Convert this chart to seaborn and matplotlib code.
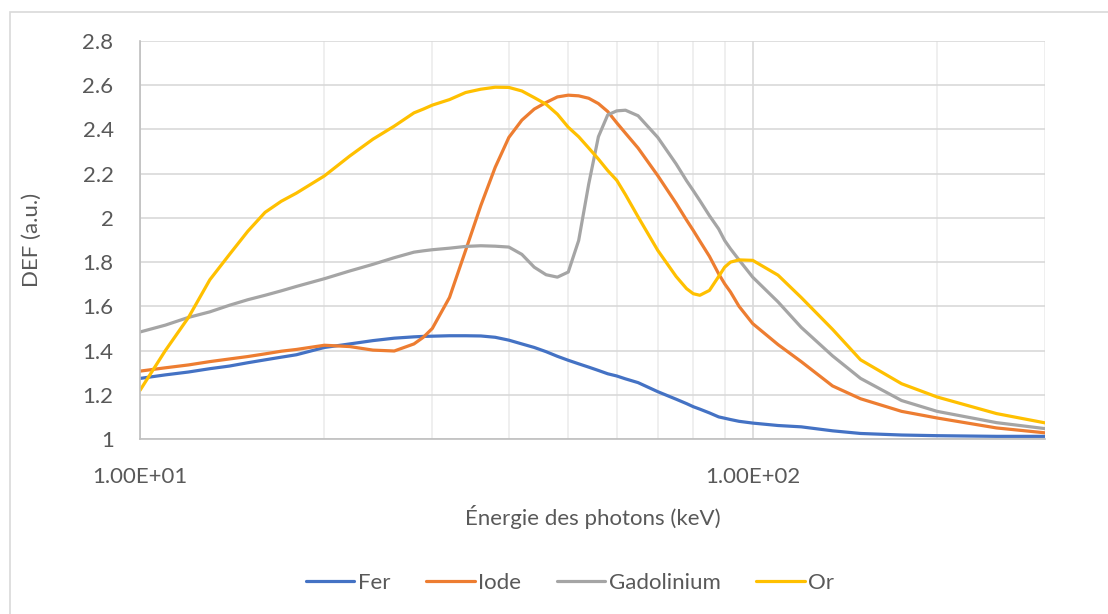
import pandas as pd
import numpy as np
import seaborn as sns
import matplotlib
matplotlib.use("Agg")
import matplotlib.pyplot as plt
from matplotlib.patches import Rectangle

# photon energies (keV)
energies = [10, 11, 12, 13, 14, 15, 16, 17, 18, 20, 22, 24, 26, 28, 29, 30, 32, 34, 36, 38, 40,
            42, 44, 46, 48, 50, 52, 54, 56, 58, 60, 62, 65, 70, 75, 78, 80, 82, 85, 88, 90, 92, 95, 100,
            110, 120, 135, 150, 175, 200, 250, 300]

fer = [1.274, 1.29, 1.303, 1.318, 1.33, 1.345, 1.358, 1.37, 1.381, 1.414, 1.43, 1.445, 1.456, 1.462,
       1.464, 1.465, 1.467, 1.467, 1.466, 1.46, 1.447, 1.43, 1.414, 1.395, 1.374, 1.356, 1.34, 1.325,
       1.31, 1.295, 1.285, 1.272, 1.255, 1.214, 1.18, 1.16, 1.146, 1.135, 1.118, 1.10, 1.094, 1.088,
       1.08, 1.072, 1.061, 1.055, 1.037, 1.025, 1.018, 1.015, 1.012, 1.012]

iode = [1.307, 1.322, 1.335, 1.35, 1.362, 1.373, 1.385, 1.397, 1.405, 1.424, 1.418, 1.402, 1.398, 1.43,
        1.46, 1.50, 1.64, 1.853, 2.056, 2.229, 2.364, 2.442, 2.492, 2.522, 2.547, 2.555, 2.552, 2.541,
        2.517, 2.481, 2.43, 2.383, 2.316, 2.191, 2.066, 1.99, 1.943, 1.895, 1.826, 1.747, 1.702, 1.665,
        1.60, 1.522, 1.427, 1.35, 1.24, 1.182, 1.125, 1.095, 1.05, 1.028]

gadolinium = [1.484, 1.515, 1.55, 1.575, 1.605, 1.63, 1.65, 1.67, 1.69, 1.725, 1.76, 1.79, 1.82, 1.845,
              1.851, 1.856, 1.863, 1.871, 1.874, 1.872, 1.868, 1.835, 1.777, 1.743, 1.732, 1.755, 1.898, 2.153,
              2.367, 2.466, 2.484, 2.487, 2.462, 2.364, 2.244, 2.168, 2.123, 2.078, 2.01, 1.95, 1.898, 1.86,
              1.81, 1.732, 1.62, 1.505, 1.376, 1.274, 1.174, 1.125, 1.074, 1.047]

gold = [1.22, 1.40, 1.55, 1.72, 1.835, 1.94, 2.025, 2.075, 2.112, 2.19, 2.28, 2.356, 2.415, 2.475,
        2.492, 2.51, 2.535, 2.567, 2.582, 2.591, 2.59, 2.574, 2.544, 2.514, 2.469, 2.41, 2.367, 2.316,
        2.266, 2.214, 2.17, 2.105, 2.005, 1.853, 1.735, 1.68, 1.657, 1.65, 1.672, 1.735, 1.777, 1.80,
        1.81, 1.808, 1.741, 1.64, 1.496, 1.358, 1.25, 1.19, 1.115, 1.073]

elements = ["Fer", "Iode", "Gadolinium", "Or"]
colors = ["#4472C4", "#ED7D31", "#A5A5A5", "#FFC000"]
y_ticks = [1, 1.2, 1.4, 1.6, 1.8, 2, 2.2, 2.4, 2.6, 2.8]
y_tick_labels = ["1", "1.2", "1.4", "1.6", "1.8", "2", "2.2", "2.4", "2.6", "2.8"]
x_ticks = [10, 100]
x_tick_labels = ["1.00E+01", "1.00E+02"]

df = pd.concat([
    pd.DataFrame({"energie": energies, "DEF": vals, "element": name})
    for name, vals in zip(elements, [fer, iode, gadolinium, gold])
])

sns.set_theme(style="white")
plt.rcParams["font.family"] = ["Lato", "DejaVu Sans"]
txt = "#595959"
grid_c = "#d9d9d9"

fig = plt.figure(figsize=(11.08, 6.14), dpi=100)
ax = fig.add_axes([140 / 1108, 1 - 439 / 614, 905 / 1108, 398 / 614])

# chart border, cropped at right and bottom like the screenshot
fig.patches.append(Rectangle((10 / 1108, -0.05), 1.2, 1 - 12 / 614 + 0.05, transform=fig.transFigure,
                             fill=False, edgecolor=grid_c, lw=1.2))

sns.lineplot(data=df, x="energie", y="DEF", hue="element", hue_order=elements,
             palette=colors, lw=2.3, ax=ax, legend=False)

ax.set_xscale("log")
ax.set_xlim(10, 300)
ax.set_ylim(1, 2.8)

ax.set_xticks(x_ticks)
ax.set_xticklabels(x_tick_labels)
ax.set_xticks([20, 30, 40, 50, 60, 70, 80, 90, 200, 300], minor=True)
ax.xaxis.set_minor_formatter(matplotlib.ticker.NullFormatter())
ax.set_yticks(y_ticks)
ax.set_yticklabels(y_tick_labels)
ax.tick_params(axis="both", which="both", length=0, labelsize=16, colors=txt)
ax.tick_params(axis="y", pad=19)
ax.tick_params(axis="x", pad=20)

ax.grid(True, axis="y", color=grid_c, lw=1.2)
ax.grid(True, axis="x", which="major", color=grid_c, lw=1.2)
ax.grid(True, axis="x", which="minor", color="#ececec", lw=1.2)
ax.set_axisbelow(True)

for side in ["top", "right"]:
    ax.spines[side].set_visible(False)
for side in ["left", "bottom"]:
    ax.spines[side].set_color("#bfbfbf")
    ax.spines[side].set_linewidth(1.2)

ax.set_xlabel("Énergie des photons (keV)", fontsize=16, color=txt)
ax.xaxis.set_label_coords(0.5, -0.165)
ax.set_ylabel("DEF (a.u.)", fontsize=16, color=txt)
ax.yaxis.set_label_coords(-0.108, 0.5)

handles = [plt.Line2D([], [], color=c, lw=2.3) for c in colors]
fig.legend(handles, elements, loc="center", bbox_to_anchor=(570 / 1108, 1 - 583 / 614), ncol=4,
           frameon=False, fontsize=16, labelcolor=txt, handlelength=2.2, handletextpad=0.15,
           columnspacing=1.6)

fig.savefig("out.png", dpi=100)
